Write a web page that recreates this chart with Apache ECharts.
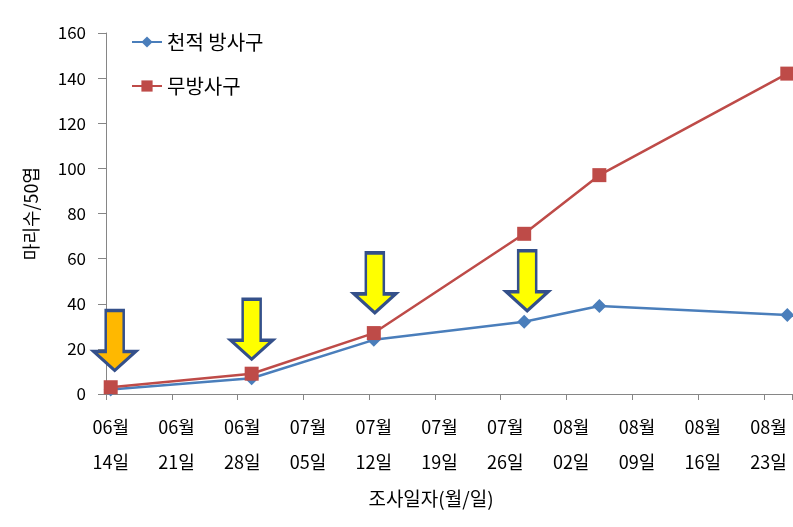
<!DOCTYPE html>
<html>
<head>
<meta charset="utf-8">
<script src="https://cdn.jsdelivr.net/npm/echarts@6/dist/echarts.min.js"></script>
<style>html,body{margin:0;padding:0;background:#fff}#c{width:793px;height:527px}</style>
</head>
<body>
<div id="c"></div>
<script>
// ---- data ----
var startMonth = 6, startDay = 14, dayCount = 73;       // daily date axis 06/14 .. 08/25
var sampleDates = ['06/14', '06/29', '07/12', '07/28', '08/05', '08/25'];
var releasedValues = [2, 7, 24, 32, 39, 35];           // 천적 방사구
var controlValues = [3, 9, 27, 71, 97, 142];           // 무방사구
var arrowDates = ['06/14', '06/29', '07/12', '07/28']; // 천적 방사 시기
var seriesNames = ['천적 방사구', '무방사구'];
var yTicks = [0, 20, 40, 60, 80, 100, 120, 140, 160];

// build daily categories
var monthLen = {6: 30, 7: 31, 8: 31};
var categories = [];
(function () {
  var m = startMonth, d = startDay;
  for (var i = 0; i < dayCount; i++) {
    categories.push((m < 10 ? '0' : '') + m + '/' + (d < 10 ? '0' : '') + d);
    d++;
    if (d > monthLen[m]) { d = 1; m++; }
  }
})();

function pairs(dates, vals) {
  return dates.map(function (dt, i) { return [dt, vals[i]]; });
}
function valueAt(dt) { return releasedValues[sampleDates.indexOf(dt)]; }

var FONT = '"Noto Sans CJK KR", "Noto Sans", sans-serif';
var arrowPath = 'path://M12,0 L30,0 L30,41 L42,41 L21,60 L0,41 L12,41 Z';
var arrowLift = [19, 19, 27, 11];
var arrowShift = [4, 0, 1, 3];
var arrowFill = ['#FFB800', '#FFFF00', '#FFFF00', '#FFFF00'];

var chart = echarts.init(document.getElementById('c'), null, {renderer: 'canvas'});
chart.setOption({
  animation: false,
  backgroundColor: '#ffffff',
  grid: {left: 106, right: 1, top: 33, bottom: 133, containLabel: false},
  legend: {
    orient: 'vertical', left: 126, top: 26,
    itemWidth: 30, itemHeight: 14, itemGap: 22,
    data: seriesNames,
    textStyle: {fontFamily: FONT, fontSize: 20, color: '#000', lineHeight: 22}
  },
  xAxis: {
    type: 'category', data: categories, boundaryGap: true,
    name: '조사일자(월/일)', nameLocation: 'middle', nameGap: 95,
    nameTextStyle: {fontFamily: FONT, fontSize: 19, color: '#000', padding: [0, 36, 0, 0]},
    axisLine: {lineStyle: {color: '#868686', width: 1}},
    axisTick: {show: true, interval: 6, length: 6, lineStyle: {color: '#868686'}},
    axisLabel: {
      interval: 6, margin: 16, fontFamily: FONT, fontSize: 18, color: '#000', lineHeight: 35,
      formatter: function (v) { var p = v.split('/'); return p[0] + '월\n' + p[1] + '일'; }
    },
    splitLine: {show: false}
  },
  yAxis: {
    type: 'value', min: yTicks[0], max: yTicks[yTicks.length - 1], interval: 20,
    name: '마리수/50엽', nameLocation: 'middle', nameGap: 66, nameRotate: 90,
    nameTextStyle: {fontFamily: FONT, fontSize: 18, color: '#000'},
    axisLine: {show: true, lineStyle: {color: '#868686', width: 1}},
    axisTick: {show: true, length: 8, lineStyle: {color: '#868686'}},
    axisLabel: {margin: 20, fontFamily: FONT, fontSize: 17, color: '#000'},
    splitLine: {show: false}
  },
  series: [
    {
      name: seriesNames[0], type: 'line', data: pairs(sampleDates, releasedValues),
      symbol: 'diamond', symbolSize: 14, z: 3, showAllSymbol: true,
      lineStyle: {color: '#4A7EBB', width: 2.5},
      itemStyle: {color: '#4A7EBB'}
    },
    {
      name: seriesNames[1], type: 'line', data: pairs(sampleDates, controlValues),
      symbol: 'rect', symbolSize: 14, z: 4, showAllSymbol: true,
      lineStyle: {color: '#BE4B48', width: 2.5},
      itemStyle: {color: '#BE4B48'}
    },
    {
      name: 'arrows', type: 'scatter', z: 6, silent: true,
      data: arrowDates.map(function (dt, i) {
        return {
          value: [dt, valueAt(dt)],
          symbolOffset: [arrowShift[i], -(30 + arrowLift[i])],
          itemStyle: {color: arrowFill[i], borderColor: '#34508A', borderWidth: 3, opacity: 1}
        };
      }),
      symbol: arrowPath, symbolSize: [42, 60], symbolKeepAspect: false
    }
  ]
});
</script>
</body>
</html>
